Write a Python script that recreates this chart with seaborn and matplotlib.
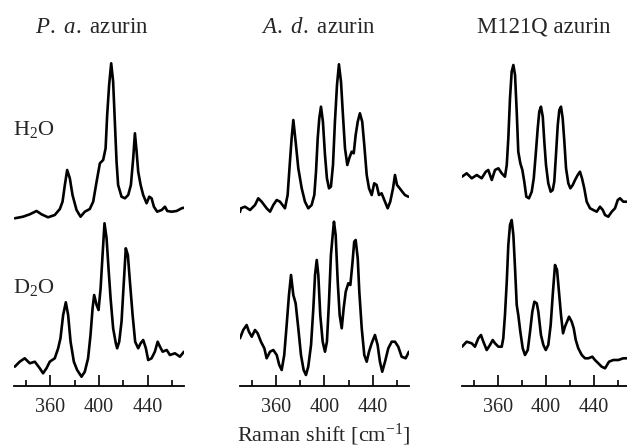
import numpy as np
import pandas as pd
import matplotlib
matplotlib.use("Agg")
import matplotlib.pyplot as plt
import seaborn as sns
from matplotlib.ticker import FixedLocator

# ---------------- data ----------------
panel_titles = [r"$\mathit{P.\ a.}$ azurin", r"$\mathit{A.\ d.}$ azurin", "M121Q azurin"]
row_labels = [r"H$_2$O", r"D$_2$O"]
major_ticks = [360, 400, 440]
minor_ticks = [340, 380, 420, 460]
x_label = r"Raman shift [cm$^{\mathregular{-1}}$]"

# P. a. azurin
pa_h2o_x = [330.6, 337.4, 343.0, 348.5, 352.6, 358.0, 363.5, 367.7, 369.9, 371.8, 373.7, 375.9,
            378.1, 381.4, 384.7, 388.2, 392.3, 395.1, 397.9, 400.6, 403.3, 405.3, 406.6, 408.2,
            409.9, 411.5, 412.9, 414.3, 415.6, 418.4, 421.2, 423.9, 426.1, 428.0, 429.4, 430.8,
            432.1, 434.1, 436.2, 439.0, 441.2, 443.1, 445.0, 447.7, 451.4, 454.1, 456.0, 459.6,
            463.7, 467.8, 469.7]
pa_h2o_y = [17.7, 19.3, 21.7, 25.0, 21.7, 18.7, 21.0, 27.0, 34.3, 51.0, 66.0, 57.7,
            41.0, 26.0, 19.3, 24.3, 27.0, 34.3, 54.3, 72.7, 76.0, 87.7, 121.0, 151.0,
            172.7, 154.3, 114.3, 74.3, 51.0, 39.3, 37.7, 41.0, 51.0, 77.7, 102.7, 84.3,
            64.3, 51.0, 41.0, 32.7, 39.3, 37.7, 29.3, 24.3, 26.0, 29.3, 25.0, 24.3,
            25.0, 27.7, 28.3]
pa_d2o_x = [330.6, 334.7, 338.8, 343.0, 347.1, 351.2, 353.9, 356.7, 359.4, 363.5, 366.3, 368.2,
            370.4, 372.6, 374.5, 376.5, 379.2, 381.9, 385.5, 388.2, 390.9, 392.9, 394.6, 395.9,
            397.9, 399.5, 401.2, 402.8, 404.4, 406.1, 407.7, 409.4, 411.5, 413.7, 414.8, 416.5,
            418.4, 420.3, 421.9, 423.6, 425.3, 427.5, 429.6, 432.1, 434.1, 436.2, 438.4, 440.3,
            443.1, 445.8, 448.1, 450.0, 452.2, 455.5, 458.2, 462.3, 466.4, 469.7]
pa_d2o_y = [19.3, 24.3, 27.7, 22.7, 24.3, 17.7, 12.7, 17.7, 24.3, 27.7, 37.7, 47.7,
            71.0, 83.7, 71.0, 44.3, 24.3, 16.0, 9.3, 14.3, 27.7, 51.0, 77.7, 91.0,
            81.0, 76.0, 97.7, 131.0, 162.7, 147.7, 117.7, 87.7, 57.7, 42.7, 37.7, 44.3,
            64.3, 104.3, 137.7, 131.0, 104.3, 71.0, 44.3, 37.7, 42.7, 46.0, 37.7, 26.0,
            27.7, 34.3, 44.3, 39.3, 34.3, 36.0, 31.0, 32.7, 29.3, 34.3]

# A. d. azurin
ad_h2o_x = [330.3, 331.1, 334.4, 338.6, 342.7, 345.4, 348.2, 352.3, 355.1, 357.8, 360.6, 363.3,
            367.4, 369.6, 371.5, 372.9, 374.3, 376.2, 378.4, 381.2, 383.9, 386.6, 389.4, 391.6,
            393.0, 394.4, 395.7, 397.1, 398.7, 400.4, 402.0, 403.7, 405.3, 407.0, 408.6, 410.3,
            411.9, 413.6, 415.2, 416.9, 418.8, 420.4, 422.4, 424.1, 425.7, 427.4, 429.2, 431.1,
            432.8, 434.8, 436.7, 438.9, 441.0, 443.0, 444.9, 447.1, 449.3, 452.1, 454.2, 456.5,
            458.1, 459.8, 462.0, 464.1, 466.3, 469.1]
ad_h2o_y = [24.0, 27.7, 29.3, 26.0, 31.0, 37.7, 34.3, 27.7, 24.3, 31.0, 36.0, 34.3,
            27.7, 41.0, 74.3, 97.7, 116.0, 94.3, 67.7, 47.7, 34.3, 27.7, 31.0, 41.0,
            64.3, 97.7, 117.7, 129.3, 114.3, 81.0, 57.7, 47.7, 49.3, 71.0, 114.3, 151.0,
            171.7, 154.3, 121.0, 87.7, 71.0, 77.7, 84.3, 82.7, 101.0, 114.3, 122.7, 114.3,
            91.0, 61.0, 47.7, 41.0, 52.7, 51.0, 41.0, 42.7, 36.0, 27.7, 34.3, 47.7,
            61.0, 51.0, 47.7, 44.3, 41.0, 39.3]
ad_d2o_x = [330.3, 333.0, 335.8, 337.7, 340.0, 342.7, 344.9, 347.6, 350.4, 352.3, 355.1, 357.8,
            360.6, 362.7, 364.7, 366.8, 368.8, 370.7, 372.4, 374.3, 376.2, 378.4, 380.6, 382.8,
            384.7, 386.6, 388.9, 390.8, 392.2, 393.6, 394.9, 396.5, 398.5, 400.4, 402.0, 403.7,
            405.3, 407.0, 407.8, 409.2, 410.9, 412.5, 414.2, 415.8, 417.5, 419.6, 421.3, 422.9,
            424.5, 425.7, 427.4, 428.7, 430.7, 432.8, 434.8, 436.7, 438.9, 441.6, 443.8, 445.7,
            447.6, 449.9, 452.6, 455.4, 458.1, 460.8, 463.6, 466.9, 469.6]
ad_d2o_y = [47.7, 56.0, 61.0, 54.3, 49.3, 56.0, 52.7, 44.3, 37.7, 27.7, 34.3, 36.0,
            31.0, 21.0, 16.0, 31.0, 61.0, 91.0, 111.0, 91.0, 82.7, 57.7, 31.0, 16.0,
            11.0, 19.3, 41.0, 77.7, 111.0, 126.0, 111.0, 71.0, 44.3, 34.3, 44.3, 84.3,
            131.0, 154.3, 164.3, 151.0, 104.3, 71.0, 57.7, 77.7, 94.3, 102.7, 101.0, 121.0,
            144.3, 146.0, 127.7, 94.3, 57.7, 31.0, 24.3, 34.3, 42.7, 51.0, 41.0, 24.3,
            14.3, 24.3, 37.7, 44.3, 44.3, 39.3, 29.3, 27.7, 34.3]

# M121Q azurin
mq_h2o_x = [330.0, 333.9, 338.1, 342.3, 346.4, 349.8, 351.9, 354.8, 357.5, 360.3, 363.1, 365.8,
            367.3, 368.6, 370.0, 371.4, 372.8, 374.2, 375.6, 376.9, 378.6, 380.3, 381.9, 383.6,
            385.8, 388.1, 389.8, 391.4, 393.1, 394.4, 395.8, 397.3, 398.6, 400.0, 401.9, 403.9,
            405.6, 406.9, 408.3, 409.8, 411.1, 412.5, 413.9, 415.3, 416.7, 418.6, 420.3, 422.3,
            424.2, 426.4, 428.3, 430.0, 431.9, 433.9, 436.7, 439.4, 442.3, 445.0, 447.3, 449.2,
            451.9, 454.8, 457.5, 459.8, 461.7, 464.4, 467.3]
mq_h2o_y = [59.3, 62.7, 57.7, 61.0, 57.7, 64.3, 66.0, 56.0, 66.0, 67.7, 62.7, 59.3,
            71.0, 97.7, 137.7, 164.3, 171.0, 161.0, 124.3, 84.3, 72.7, 66.0, 54.3, 39.3,
            37.7, 44.3, 57.7, 81.0, 107.7, 124.3, 129.3, 119.3, 94.3, 71.0, 52.7, 44.3,
            46.0, 54.3, 81.0, 111.0, 126.0, 129.3, 117.7, 94.3, 67.7, 52.7, 47.7, 51.0,
            56.0, 61.0, 64.3, 57.7, 47.7, 34.3, 27.7, 26.0, 24.3, 29.3, 26.0, 21.0,
            19.3, 24.3, 27.7, 36.0, 37.7, 34.3, 34.3]
mq_d2o_x = [330.0, 333.9, 338.1, 340.8, 343.6, 345.8, 347.8, 350.6, 353.3, 355.6, 357.5, 360.3,
            363.1, 364.4, 365.8, 367.3, 368.6, 370.0, 371.4, 372.8, 374.2, 375.6, 376.9, 378.6,
            380.6, 382.5, 384.8, 386.7, 388.6, 390.3, 392.3, 393.6, 395.8, 397.8, 399.8, 401.9,
            403.9, 405.8, 407.5, 409.2, 410.8, 412.5, 414.2, 415.8, 417.5, 419.2, 421.4, 423.1,
            424.8, 426.9, 429.8, 432.5, 435.3, 438.6, 440.8, 443.6, 446.4, 449.2, 452.5, 456.1,
            460.3, 464.4, 467.3]
mq_d2o_y = [39.3, 44.3, 42.7, 39.3, 47.7, 51.0, 44.3, 36.0, 41.0, 46.0, 42.7, 39.3,
            39.3, 47.7, 71.0, 104.3, 141.0, 161.0, 166.0, 151.0, 117.7, 81.0, 71.0, 54.3,
            37.7, 31.0, 36.0, 54.3, 74.3, 84.3, 82.7, 74.3, 51.0, 41.0, 36.0, 41.0,
            61.0, 94.3, 121.0, 116.0, 94.3, 71.0, 52.7, 59.3, 64.3, 69.3, 64.3, 57.7,
            46.0, 37.7, 31.0, 27.7, 27.7, 29.3, 26.0, 22.7, 19.3, 17.7, 24.3, 26.0,
            26.0, 27.7, 27.7]

panels = [
    [(pa_h2o_x, pa_h2o_y), (pa_d2o_x, pa_d2o_y)],
    [(ad_h2o_x, ad_h2o_y), (ad_d2o_x, ad_d2o_y)],
    [(mq_h2o_x, mq_h2o_y), (mq_d2o_x, mq_d2o_y)],
]

# ---------------- style ----------------
sns.set_theme(style="white")
plt.rcParams["font.family"] = ["Liberation Serif", "DejaVu Serif"]
plt.rcParams["mathtext.fontset"] = "custom"
plt.rcParams["mathtext.rm"] = "Liberation Serif"
plt.rcParams["mathtext.it"] = "Liberation Serif:italic"
plt.rcParams["mathtext.bf"] = "Liberation Serif:bold"

W, H = 627, 447
fig = plt.figure(figsize=(W / 100, H / 100), dpi=100)

offsets = [150, 0]
boxes = [(14.0, 170.3), (239.6, 169.8), (462.0, 168.0)]
axis_y = 386
ax_h = 346

for curves, (left, width) in zip(panels, boxes):
    ax = fig.add_axes([left / W, (H - axis_y) / H, width / W, ax_h / H])
    ax.patch.set_alpha(0)
    for (xs, ys), off in zip(curves, offsets):
        df = pd.DataFrame({"shift": xs, "intensity": np.array(ys, dtype=float) + off})
        sns.lineplot(data=df, x="shift", y="intensity", ax=ax, color="black",
                     linewidth=1.9, estimator=None, sort=False)
    ax.set_xlim(330, 470)
    ax.set_ylim(0, ax_h)
    for s in ["left", "right", "top"]:
        ax.spines[s].set_visible(False)
    ax.spines["bottom"].set_linewidth(1.3)
    ax.spines["bottom"].set_color("black")
    ax.set_yticks([])
    ax.xaxis.set_major_locator(FixedLocator(major_ticks))
    ax.xaxis.set_minor_locator(FixedLocator(minor_ticks))
    ax.tick_params(axis="x", which="major", direction="in", length=8, width=1.2,
                   color="black", labelsize=14.5, pad=9, bottom=True)
    ax.tick_params(axis="x", which="minor", direction="in", length=4.5, width=1.2,
                   color="black", bottom=True)
    ax.set_xlabel("")
    ax.set_ylabel("")

# titles
title_x = [92, 318, 544]
for t, tx in zip(panel_titles, title_x):
    fig.text(tx / W, (H - 33) / H, t, ha="center", va="baseline", fontsize=16.5)

# row labels
fig.text(13 / W, (H - 135) / H, row_labels[0], ha="left", va="baseline", fontsize=16)
fig.text(13 / W, (H - 293) / H, row_labels[1], ha="left", va="baseline", fontsize=16)

# x label
fig.text(324 / W, (H - 441) / H, x_label, ha="center", va="baseline", fontsize=16)

fig.savefig("out.png", dpi=100)
